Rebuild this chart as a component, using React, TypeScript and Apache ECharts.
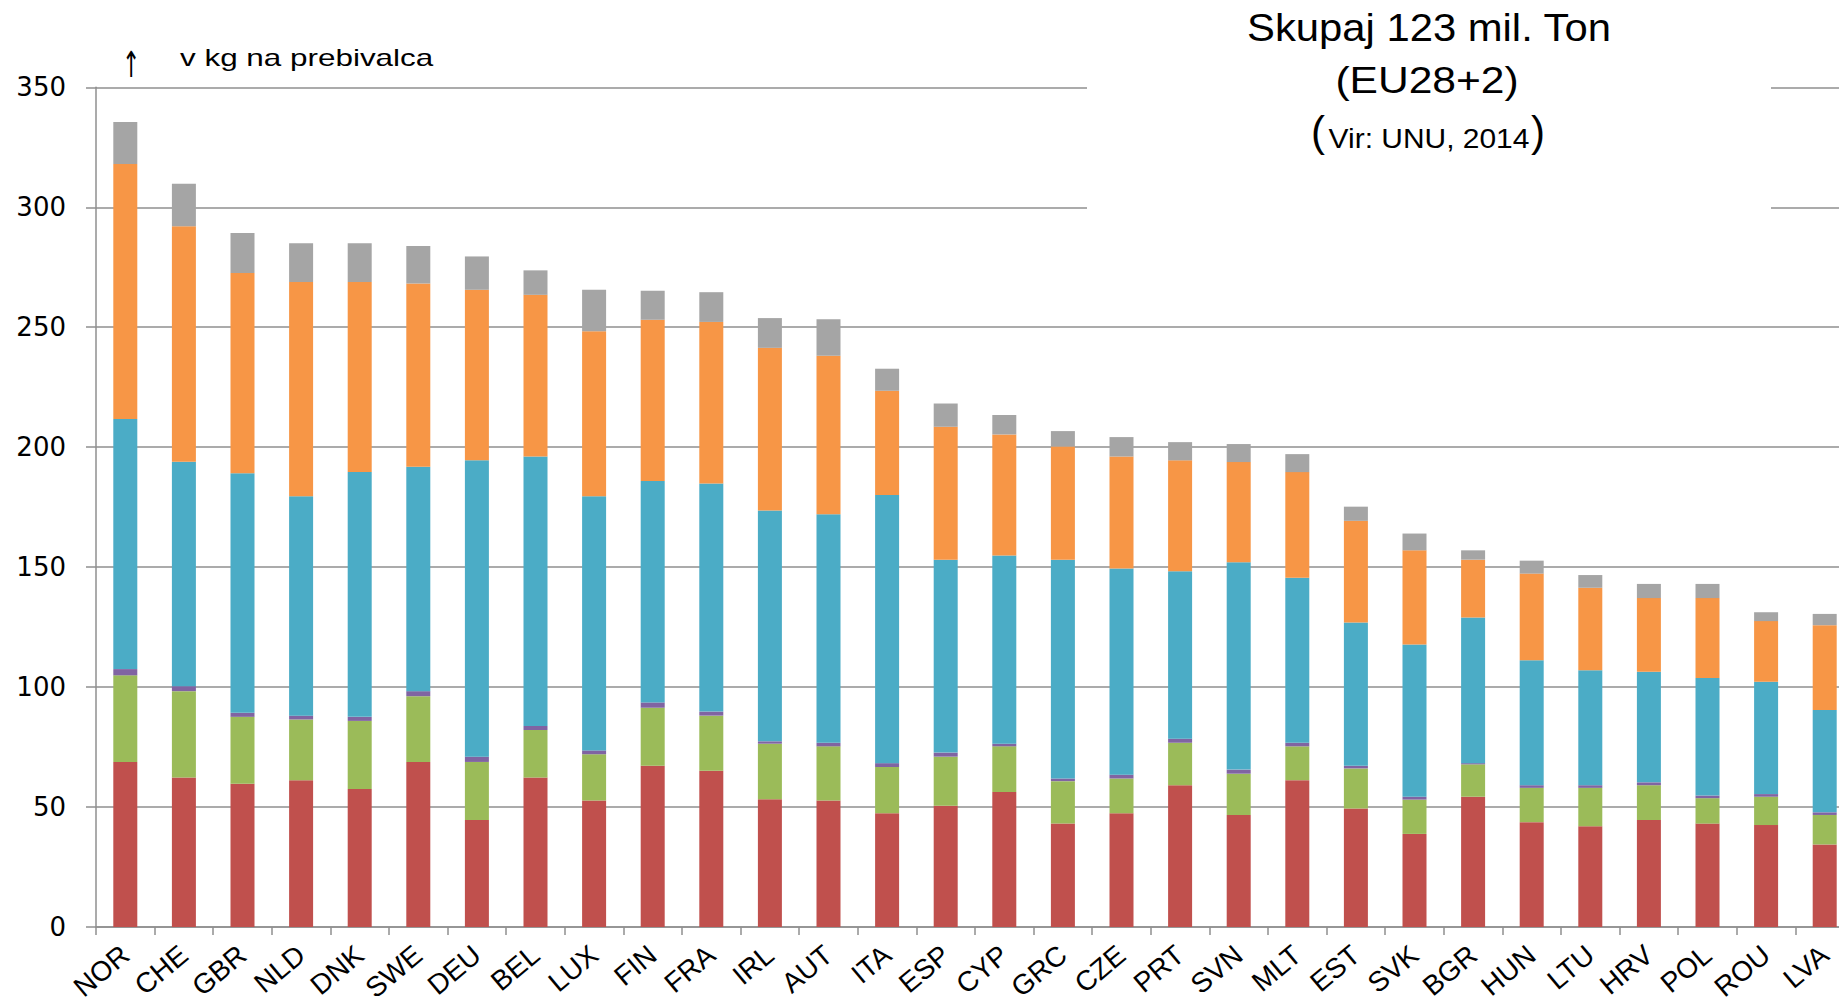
import React, { useEffect, useRef } from "react";
import * as echarts from "echarts";

const categories = ["NOR","CHE","GBR","NLD","DNK","SWE","DEU","BEL","LUX","FIN","FRA","IRL","AUT","ITA","ESP","CYP","GRC","CZE","PRT","SVN","MLT","EST","SVK","BGR","HUN","LTU","HRV","POL","ROU","LVA"];
const redValues = [68.8,62.3,59.7,61.2,57.5,68.8,44.6,62.3,52.7,67.2,65.1,53.3,52.7,47.4,50.5,56.3,43.1,47.4,59.1,46.7,61.2,49.4,38.8,54.3,43.7,42.0,44.6,43.1,42.5,34.4];
const greenValues = [36.1,36.0,27.9,25.3,28.4,27.4,24.2,19.8,19.3,24.2,23.0,23.1,22.6,19.3,20.5,19.0,17.7,14.5,17.7,17.2,14.1,16.7,14.3,13.5,14.3,16.0,14.5,10.6,11.8,12.3];
const purpleValues = [2.6,2.1,1.7,1.6,1.7,2.1,2.2,1.7,1.6,2.2,1.7,1.0,1.5,1.6,1.7,1.1,1.1,1.6,1.7,1.7,1.5,1.1,1.2,0.5,1.1,1.1,1.2,1.1,1.1,1.1];
const blueValues = [104.2,93.5,99.8,91.4,102.0,93.5,123.5,112.3,105.9,92.3,95.1,96.2,95.2,111.8,80.4,78.4,91.2,85.9,69.8,86.4,68.8,59.7,63.4,60.7,52.1,47.9,46.1,49.0,46.8,42.6];
const orangeValues = [106.3,98.2,83.5,89.3,79.2,76.4,71.1,67.4,68.8,67.2,67.3,67.8,66.1,43.4,55.4,50.5,47.2,46.7,46.2,41.8,44.0,42.4,39.3,24.1,36.1,34.4,30.7,33.3,25.3,35.4];
const grayValues = [17.5,17.7,16.7,16.2,16.2,15.6,13.9,10.2,17.3,12.1,12.4,12.4,15.2,9.2,9.7,8.1,6.4,8.1,7.6,7.5,7.5,5.9,7.0,3.9,5.4,5.3,5.9,5.9,3.7,4.7];

const seriesDefs = [
  { name: "red", data: redValues, color: "#C0504D" },
  { name: "green", data: greenValues, color: "#9BBB59" },
  { name: "purple", data: purpleValues, color: "#8064A2" },
  { name: "blue", data: blueValues, color: "#4BACC6" },
  { name: "orange", data: orangeValues, color: "#F79646" },
  { name: "gray", data: grayValues, color: "#A5A5A5" },
];

const titleLine1 = "Skupaj 123 mil. Ton";
const titleLine2 = "(EU28+2)";
const titleLine3 = "Vir: UNU, 2014";
const unitLabel = "v kg na prebivalca";

export default function App() {
  const ref = useRef<HTMLDivElement>(null);
  useEffect(() => {
    if (!ref.current) return;
    const chart = echarts.init(ref.current, null, { renderer: "svg" });
    const axisColor = "#8f8f8f";
    const font = "'Liberation Sans', Arial, sans-serif";
    chart.setOption({
      animation: false,
      backgroundColor: "#ffffff",
      grid: { left: 96, right: -15, top: 87.3, bottom: 78, outerBoundsMode: "none", containLabel: false },
      xAxis: {
        type: "category",
        data: categories,
        axisLine: { lineStyle: { color: axisColor, width: 1.5 } },
        axisTick: { show: true, length: 8, lineStyle: { color: axisColor, width: 1.5 } },
        axisLabel: { interval: 0, rotate: 40, margin: 24, color: "#000", fontSize: 28, fontFamily: font },
      },
      yAxis: {
        type: "value",
        min: 0,
        max: 350,
        interval: 50,
        axisLine: { show: true, lineStyle: { color: axisColor, width: 1.5 } },
        axisTick: { show: true, length: 10, lineStyle: { color: axisColor, width: 1.5 } },
        axisLabel: { margin: 30, color: "#000", fontSize: 26, fontFamily: "'DejaVu Sans', sans-serif" },
        splitLine: { lineStyle: { color: axisColor, width: 1.5 } },
      },
      series: seriesDefs.map((s) => ({
        name: s.name,
        type: "bar",
        stack: "total",
        data: s.data,
        barWidth: 24,
        itemStyle: { color: s.color },
      })),
      graphic: [
        { type: "rect", z: 50, shape: { x: 1087, y: 0, width: 684, height: 290 }, style: { fill: "#ffffff" } },
        { type: "text", z: 100, x: 1429, y: 28, scaleX: 1.1, style: { text: titleLine1, fontSize: 38, fontFamily: font, fill: "#000", align: "center", verticalAlign: "middle" } },
        { type: "text", z: 100, x: 1427, y: 80, scaleX: 1.15, style: { text: titleLine2, fontSize: 37, fontFamily: font, fill: "#000", align: "center", verticalAlign: "middle" } },
        { type: "text", z: 100, x: 1311, y: 131, style: { text: "(", fontSize: 42, fontFamily: font, fill: "#000", align: "left", verticalAlign: "middle" } },
        { type: "text", z: 100, x: 1429, y: 138, scaleX: 1.07, style: { text: titleLine3, fontSize: 28, fontFamily: font, fill: "#000", align: "center", verticalAlign: "middle" } },
        { type: "text", z: 100, x: 1545, y: 131, style: { text: ")", fontSize: 42, fontFamily: font, fill: "#000", align: "right", verticalAlign: "middle" } },
        { type: "text", z: 100, x: 131, y: 64, scaleX: 0.6, style: { text: "↑", fontSize: 36, fontFamily: "'DejaVu Sans', sans-serif", fill: "#000", align: "center", verticalAlign: "middle" } },
        { type: "text", z: 100, x: 180, y: 58, scaleX: 1.31, style: { text: unitLabel, fontSize: 24, fontFamily: font, fill: "#000", align: "left", verticalAlign: "middle" } },
      ],
    });
    return () => chart.dispose();
  }, []);
  return <div ref={ref} style={{ position: "fixed", left: 0, top: 0, width: 1839, height: 1005, background: "#fff" }} />;
}
